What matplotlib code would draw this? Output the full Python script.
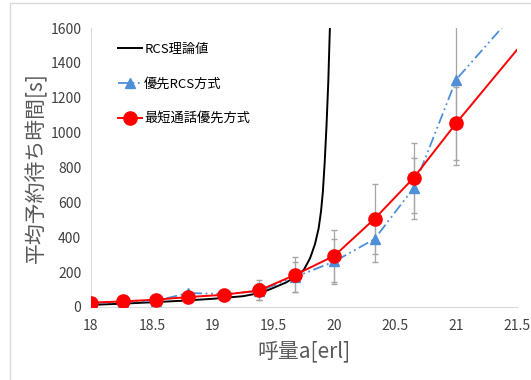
import numpy as np
from matplotlib import pyplot as plt
from matplotlib.patches import Rectangle

plt.rcParams['font.family'] = ['Noto Sans CJK JP', 'DejaVu Sans']

# RCS理論値 (曲線)
x_theory = [18, 18.25, 18.5, 18.75, 19.0, 19.25, 19.4, 19.5, 19.6, 19.7,
            19.75, 19.8, 19.84, 19.87, 19.89, 19.905, 19.92, 19.935, 19.95, 19.96, 19.97]
y_theory = [12, 19, 27, 36, 47, 62, 82, 110, 140, 180,
            215, 280, 360, 450, 550, 660, 830, 1040, 1300, 1540, 1750]

# シミュレーション結果
x_sim = [18, 18.26, 18.53, 18.8, 19.09, 19.38, 19.68, 20.0, 20.33, 20.65, 21.0, 21.5]
y_prio_rcs = [20, 30, 35, 80, 75, 90, 173, 261, 390, 682, 1304, 1700]
err_prio_rcs = [6, 6, 8, 10, 12, 47, 85, 130, 130, 175, 490, 0]
y_short = [25, 32, 42, 57, 70, 95, 185, 294, 506, 740, 1054, 1475]
err_short = [8, 8, 10, 12, 12, 57, 100, 150, 200, 200, 210, 0]

x_ticks = [18, 18.5, 19, 19.5, 20, 20.5, 21, 21.5]
y_ticks = [0, 200, 400, 600, 800, 1000, 1200, 1400, 1600]

fig = plt.figure(figsize=(5.31, 3.80), dpi=100)
fig.patches.append(Rectangle((10 / 531, -0.1), 2, 1.1 - 3 / 380,
                             transform=fig.transFigure, fill=False,
                             edgecolor='#d9d9d9', linewidth=1))
ax = fig.add_axes([91 / 531, 1 - 307 / 380, 426 / 531, 279 / 380])

n = len(x_sim) - 1
ax.errorbar(x_sim[:n], y_prio_rcs[:n], yerr=err_prio_rcs[:n], fmt='none',
            ecolor='#a6a6a6', elinewidth=0.9, capsize=2.5, zorder=1)
ax.errorbar(x_sim[:n], y_short[:n], yerr=err_short[:n], fmt='none',
            ecolor='#a6a6a6', elinewidth=0.9, capsize=2.5, zorder=1)

ax.plot(x_theory, y_theory, color='black', linewidth=1.4, label='RCS理論値', zorder=2)
ax.plot(x_sim, y_prio_rcs, color='#4f8fd8', linewidth=1.3, dashes=(6, 2, 1, 2, 1, 2),
        marker='^', markersize=7.5, markevery=list(range(n)), label='優先RCS方式', zorder=3)
ax.plot(x_sim, y_short, color='#ff0000', linewidth=1.4, marker='o', markersize=9.5,
        markevery=list(range(n)), label='最短通話優先方式', zorder=4)

ax.set_xlim(18, 21.5)
ax.set_ylim(0, 1600)
ax.set_xticks(x_ticks)
ax.set_xticklabels([str(t) for t in x_ticks])
ax.set_yticks(y_ticks)
ax.tick_params(length=0, labelsize=10, colors='#404040', pad=7)
ax.tick_params(axis='x', pad=9)
for s in ['top', 'right']:
    ax.spines[s].set_visible(False)
for s in ['left', 'bottom']:
    ax.spines[s].set_color('#d9d9d9')

ax.set_xlabel('呼量a[erl]', fontsize=15, color='#595959', labelpad=5)
ax.set_ylabel('平均予約待ち時間[s]', fontsize=15, color='#595959', labelpad=2)

ax.legend(loc='upper left', bbox_to_anchor=(0.035, 0.99), frameon=False,
          fontsize=9.5, labelspacing=1.65, handlelength=1.8, handletextpad=0.2)

plt.savefig('out.png', dpi=100)
